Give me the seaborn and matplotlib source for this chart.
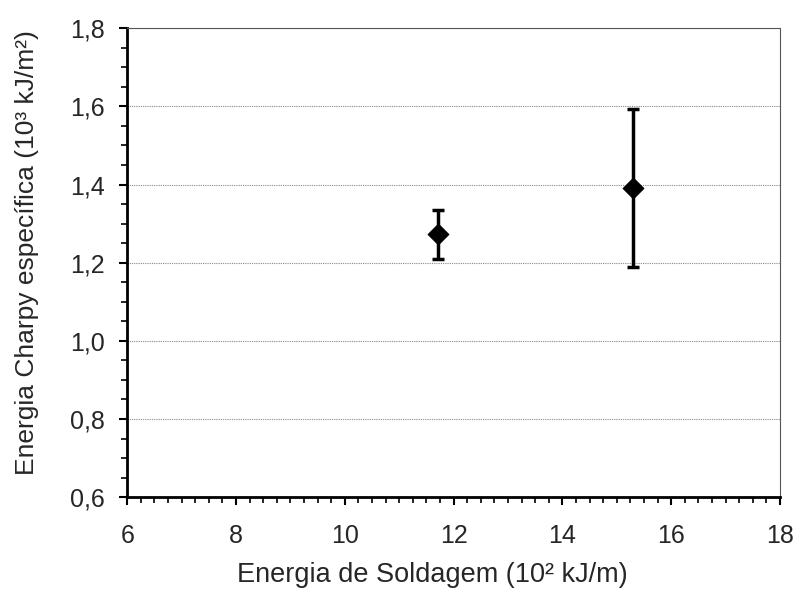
import numpy as np
import pandas as pd
import seaborn as sns
import matplotlib.pyplot as plt
from matplotlib.ticker import MultipleLocator, FuncFormatter

# data
energia_soldagem = [11.72, 15.30]
charpy_media = [1.273, 1.392]
charpy_min = [1.210, 1.188]
charpy_max = [1.336, 1.593]

df = pd.DataFrame({'x': energia_soldagem, 'y': charpy_media,
                   'lo': charpy_min, 'hi': charpy_max})

sns.set_style('white')
plt.rcParams['font.family'] = ['Liberation Sans', 'DejaVu Sans']

fig = plt.figure(figsize=(7.95, 5.89), dpi=100)
ax = fig.add_axes([0.160, 0.156, 0.821, 0.796])

# error bars
yerr = np.array([df['y'] - df['lo'], df['hi'] - df['y']])
ax.errorbar(df['x'], df['y'], yerr=yerr, fmt='none', ecolor='black',
            elinewidth=2.5, capsize=4.5, capthick=2.5, zorder=3)
sns.scatterplot(data=df, x='x', y='y', marker='D', s=110, color='black',
                edgecolor='black', ax=ax, zorder=4)

ax.set_xlim(6, 18)
ax.set_ylim(0.6, 1.8)
ax.xaxis.set_major_locator(MultipleLocator(2))
ax.xaxis.set_minor_locator(MultipleLocator(0.25))
ax.yaxis.set_major_locator(MultipleLocator(0.2))
ax.yaxis.set_minor_locator(MultipleLocator(0.05))
ax.yaxis.set_major_formatter(FuncFormatter(lambda v, p: f'{v:.1f}'.replace('.', ',')))

ax.grid(axis='y', which='major', color='#888888', linestyle=(0, (1, 1)), linewidth=0.8)
ax.set_axisbelow(True)

for side in ['left', 'bottom']:
    ax.spines[side].set_color('black')
    ax.spines[side].set_linewidth(2)
for side in ['top', 'right']:
    ax.spines[side].set_color('#555555')
    ax.spines[side].set_linestyle((0, (1, 1)))
    ax.spines[side].set_linewidth(0.8)

ax.tick_params(which='major', direction='out', length=6, width=1.5,
               bottom=True, left=True, labelsize=18, color='black')
ax.tick_params(axis='x', which='major', pad=13)
ax.tick_params(axis='y', which='major', pad=10)
ax.tick_params(which='minor', direction='out', length=4, width=1.2,
               bottom=True, left=True, color='black')

ax.set_xlabel('Energia de Soldagem (10² kJ/m)', fontsize=19.5)
ax.set_ylabel('Energia Charpy específica (10³ kJ/m²)', fontsize=19)
ax.xaxis.set_label_coords(0.467, -0.138)
ax.yaxis.set_label_coords(-0.135, 0.522)

fig.savefig('out.png', dpi=100)
